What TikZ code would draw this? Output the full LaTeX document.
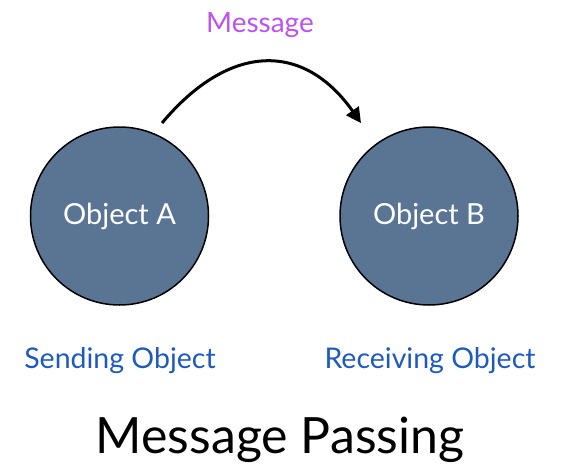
\documentclass[tikz,border=0pt]{standalone}
\usepackage{fontspec}
\setmainfont{Lato}
\usetikzlibrary{arrows.meta}

\definecolor{objfill}{RGB}{90,117,148}
\definecolor{rolecol}{RGB}{30,90,190}
\definecolor{msgcol}{RGB}{188,82,240}

\tikzset{
  objnode/.style={circle, draw=black, line width=1.5pt, fill=objfill, minimum size=178pt, inner sep=0pt, text=white, font=\fontsize{29}{34}\selectfont},
  rolelabel/.style={anchor=base, text=rolecol, inner sep=0pt, font=\fontsize{28.5}{34}\selectfont},
  msgarrow/.style={line width=3pt, -{Triangle[length=15pt,width=15pt]}}
}

\begin{document}
\begin{tikzpicture}[x=1pt,y=1pt]
    \useasboundingbox (0,0) rectangle (569,467);

    \node[objnode] (objA) at (119.5,251) {Object A};
    \node[objnode] (objB) at (429,251) {Object B};

    \coordinate (sendpt) at (162,344);
    \coordinate (recvpt) at (361,344);
    \draw[msgarrow] (sendpt) .. controls (230,425) and (304,425) .. (recvpt);
    \node[anchor=base, inner sep=0pt, text=msgcol, font=\fontsize{28}{34}\selectfont] (msg) at (260,434) {Message};

    \node[rolelabel] (sendlbl) at (120,99) {Sending Object};
    \node[rolelabel] (recvlbl) at (430,99) {Receiving Object};

    \node[anchor=base, inner sep=0pt, font=\fontsize{50}{60}\selectfont] (title) at (280,14) {Message Passing};
  \end{tikzpicture}
\end{document}
